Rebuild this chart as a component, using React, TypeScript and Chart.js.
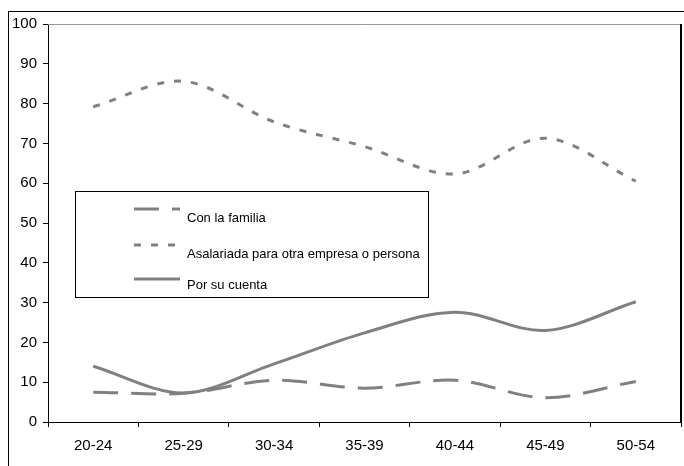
import React, { useEffect, useRef } from "react";
import { Chart, registerables } from "chart.js";

Chart.register(...registerables);

const categories = ["20-24", "25-29", "30-34", "35-39", "40-44", "45-49", "50-54"];
const conLaFamilia = [7.5, 7.2, 10.5, 8.5, 10.5, 6.1, 10.2];
const asalariada = [79.2, 85.6, 75.4, 69.2, 62.3, 71.3, 60.5];
const porSuCuenta = [14.0, 7.3, 14.6, 22.4, 27.6, 23.0, 30.2];
const seriesNames = ["Con la familia", "Asalariada para otra empresa o persona", "Por su cuenta"];
const yMin = 0;
const yMax = 100;
const yStep = 10;

const FONT = "'Liberation Sans', Arial, sans-serif";
const GRAY = "#808080";

export default function App() {
  const ref = useRef<HTMLCanvasElement | null>(null);

  useEffect(() => {
    if (!ref.current) return;

    const framePlugin = {
      id: "frame",
      beforeDraw(chart: any) {
        const ctx = chart.ctx;
        ctx.save();
        ctx.fillStyle = "#fff";
        ctx.fillRect(0, 0, chart.width, chart.height);
        ctx.strokeStyle = "#000";
        ctx.lineWidth = 1;
        ctx.strokeRect(8.5, 11.5, chart.width + 20, chart.height + 20);
        ctx.restore();
      },
      afterDraw(chart: any) {
        const ctx = chart.ctx;
        const a = chart.chartArea;
        ctx.save();
        // plot area top (gray) and right (black)
        ctx.strokeStyle = "#999";
        ctx.lineWidth = 1;
        ctx.beginPath();
        ctx.moveTo(a.left, Math.round(a.top) + 0.5);
        ctx.lineTo(a.right, Math.round(a.top) + 0.5);
        ctx.stroke();
        ctx.strokeStyle = "#000";
        ctx.lineWidth = 2;
        ctx.beginPath();
        ctx.moveTo(Math.round(a.right), a.top);
        ctx.lineTo(Math.round(a.right), a.bottom);
        ctx.stroke();

        // legend box
        const bx = 75.5, by = 191.5, bw = 353, bh = 106;
        ctx.fillStyle = "#fff";
        ctx.fillRect(bx, by, bw, bh);
        ctx.strokeStyle = "#000";
        ctx.lineWidth = 1;
        ctx.strokeRect(bx, by, bw, bh);

        const lineYs = [209, 245, 279];
        const textYs = [222, 258, 289];
        chart.data.datasets.forEach((ds: any, i: number) => {
          ctx.save();
          ctx.strokeStyle = ds.borderColor;
          ctx.lineWidth = ds.borderWidth;
          ctx.setLineDash(ds.borderDash || []);
          ctx.lineCap = "butt";
          ctx.beginPath();
          ctx.moveTo(134, lineYs[i]);
          ctx.lineTo(180, lineYs[i]);
          ctx.stroke();
          ctx.restore();
          ctx.fillStyle = "#000";
          ctx.font = `13px ${FONT}`;
          ctx.textAlign = "left";
          ctx.textBaseline = "alphabetic";
          ctx.fillText(ds.label, 187, textYs[i]);
        });
        ctx.restore();
      },
    };

    const common = {
      borderColor: GRAY,
      borderWidth: 3,
      pointRadius: 0,
      pointHoverRadius: 0,
      tension: 0.33,
      fill: false,
    };

    const chart = new Chart(ref.current, {
      type: "line",
      data: {
        labels: categories,
        datasets: [
          { ...common, label: seriesNames[0], data: conLaFamilia, borderDash: [25, 13] },
          { ...common, label: seriesNames[1], data: asalariada, borderDash: [7, 10] },
          { ...common, label: seriesNames[2], data: porSuCuenta },
        ],
      },
      options: {
        animation: false,
        responsive: false,
        maintainAspectRatio: false,
        layout: { padding: { top: 24, right: 3, left: 0, bottom: 0 } },
        plugins: {
          legend: { display: false },
          tooltip: { enabled: false },
        },
        scales: {
          x: {
            offset: true,
            grid: {
              offset: true,
              drawOnChartArea: false,
              drawTicks: true,
              tickLength: 5,
              color: "#000",
            },
            border: { color: "#000", width: 1 },
            ticks: {
              color: "#000",
              font: { family: FONT, size: 15 },
              padding: 10,
              maxRotation: 0,
              autoSkip: false,
            },
            afterFit(scale: any) {
              scale.height = 44;
            },
          },
          y: {
            min: yMin,
            max: yMax,
            grid: {
              drawOnChartArea: false,
              drawTicks: true,
              tickLength: 5,
              color: "#000",
            },
            border: { color: "#000", width: 1 },
            ticks: {
              stepSize: yStep,
              color: "#000",
              font: { family: FONT, size: 15 },
              padding: 6,
            },
            afterFit(scale: any) {
              scale.width = 48;
            },
          },
        },
      },
      plugins: [framePlugin],
    });

    return () => chart.destroy();
  }, []);

  return (
    <div style={{ position: "fixed", left: 0, top: 0, width: 684, height: 466, background: "#fff" }}>
      <canvas ref={ref} width={684} height={466} style={{ display: "block" }} />
    </div>
  );
}
